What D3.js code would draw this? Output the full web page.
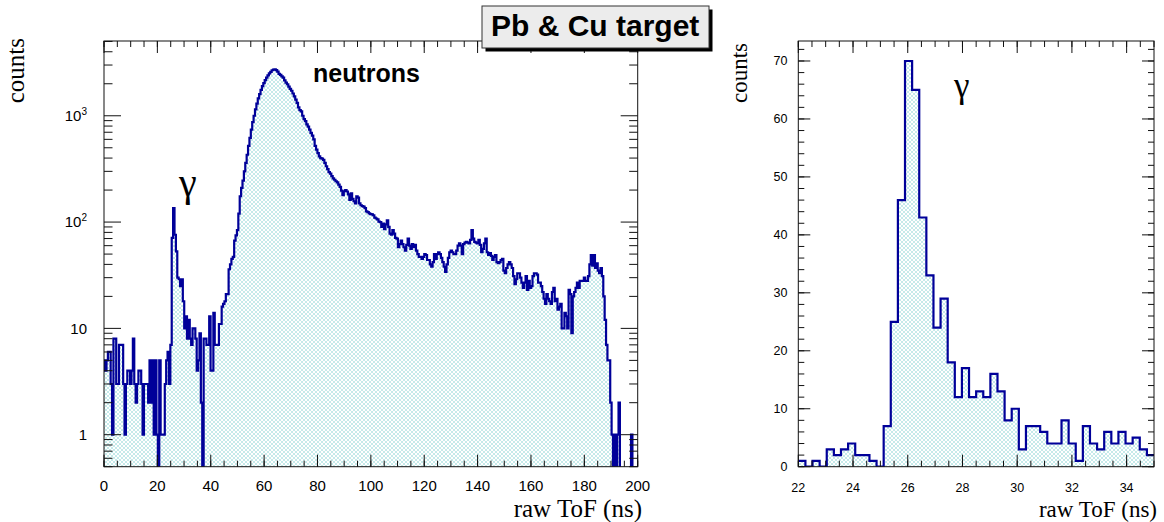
<!DOCTYPE html>
<html><head><meta charset="utf-8">
<script src="https://cdn.jsdelivr.net/npm/d3@7"></script>
<style>body{margin:0;background:#fff}</style></head>
<body>
<svg id="c" width="1164" height="522"></svg>
<script>
// ---------- DATA ----------
// left panel: raw ToF histogram (log y), bins of 0.52 ns starting at -0.1 ns
const leftBinStart = -0.1;
const leftBinWidth = 0.52;
const leftCounts = [
  5,4,5,6,6,3,1,8,8,3, 3,7,7,7,3,1,3,4,4,3, 4,8,3,2,3,4,4,3,1,3, 3,3,2,5,2,5,1,5,1,0, 5,1,
  1,1,3,5,6,3,7,
  71,135,76,53,30,29,25,29,18,10,13,8,12,8,7,10,10,8,
  4,5,9,2,0,
  8,8,7,7,13,4,4,14,7,7, 7,11,11,16,17,18,21,21,36,40, 45,47,67,75,84,
  120,175,210,245,300,360,430,520,620,740, 870,1000,1150,1300,1460,1600,1750,1900,2030,2160,
  2280,2400,2500,2590,2680,2720,2730,2690,2600,2480, 2420,2350,2280,2150,2050,1980,1880,1790,1720,1620,
  1520,1420,1320,1200,1130,1100,1000,930,890,830, 790,740,690,650,600,
  520,480,445,415,400,395,385,360,335,315, 295,285,270,258,250,242,236,225,214,198,
  179,195,200,194,182,162,186,165,157,150, 175,170,150,144,141,140,135,126,124,121,
  119,118,116,110,108,106,101,100,90,97, 86,95,104,90,78,76,84,78,71,70,
  58,62,67,62,58,54,61,70,60,56, 62,58,61,54,50,47,
  47,45,47,50,49,44,44,40,38,42, 50,45,50,52,50,46,42,38,34,40,
  46,52,54,52,50,50,54,60,63,60, 50,62,64,65,64,63,68,84,70,65,
  64,63,68,61,52,56,63,70,52,49, 51,48,44,47,49,42,41,42,44,45,
  35,33,37,40,42,40,37,31,26,29, 33,33,30,27,24,
  27,31,23,28,24,25,31,33,33,32, 27,27,25,22,19,17,21,19,18,17,
  22,24,18,19,15,16,17,10,10,14, 13,10,23,21,9,20,22,24,27,24,
  28,28,28,30,28,28,31,40,49,39, 49,37,41,35,33,37,31,20,12,7,
  5,5,2,1,0,1,0,1,2, 0,0,0,0,0,0,0,0, 1, 0,0,0,0
];
// right panel: zoom on the gamma peak (linear y), bins of 0.26 ns from 22 ns
const rightBinStart = 22;
const rightBinWidth = 0.26;
const rightCounts = [
  1,0,1,0,3,2,3,4,2,2, 1,0,7,25,46,70,65,43,33,24,
  29,18,12,17,12,13,12,16,13,8, 10,3,7,7,6,4,4,8,4,1,
  7,4,3,6,4,6,4,5,3,2
];
const leftXTicks = [0,20,40,60,80,100,120,140,160,180,200];
const leftYTicks = [1,10,100,1000];
const leftYTickLabels = [["1",""],["10",""],["10","2"],["10","3"]];
const rightXTicks = [22,24,26,28,30,32,34];
const rightYTicks = [0,10,20,30,40,50,60,70];
const titleText = "Pb & Cu target";
const xTitle = "raw ToF (ns)";
const yTitle = "counts";
const gammaText = "γ";
const neutronText = "neutrons";

// ---------- LAYOUT ----------
const L = {x0:104, x1:637.7, y0:41, y1:466.7};
const R = {x0:798.3, x1:1154, y0:41, y1:466.7};
const lineColor = "#000099";
const sans = "'Liberation Sans', Arial, sans-serif";
const serif = "'Liberation Serif', 'Times New Roman', serif";

const svg = d3.select("#c");
svg.append("rect").attr("width",1164).attr("height",522).attr("fill","#fff");
const defs = svg.append("defs");
const pat = defs.append("pattern").attr("id","hatch").attr("patternUnits","userSpaceOnUse")
  .attr("width",4).attr("height",4);
pat.append("rect").attr("width",4).attr("height",4).attr("fill","#ffffff");
pat.append("path").attr("d","M0,0L4,4M4,0L0,4M-1,3L1,5M3,-1L5,1M3,5L5,3M-1,1L1,-1")
  .attr("stroke","#9edcdc").attr("stroke-width",0.6).attr("fill","none");
[["clipL",L],["clipR",R]].forEach(([id,F])=>{
  defs.append("clipPath").attr("id",id).append("rect")
    .attr("x",F.x0).attr("y",F.y0).attr("width",F.x1-F.x0).attr("height",F.y1-F.y0);
});

// scales
const xL = d3.scaleLinear().domain([0,200]).range([L.x0,L.x1]);
const yL = d3.scaleLog().domain([0.5,5050]).range([L.y1,L.y0]);
const xR = d3.scaleLinear().domain([22,35]).range([R.x0,R.x1]);
const yR = d3.scaleLinear().domain([0,73.45]).range([R.y1,R.y0]);

function drawHist(counts, start, w, x, y, F, clip, isLog){
  const pts = counts.map((c,i)=>({e:start+i*w, c}));
  pts.push({e:start+counts.length*w, c:counts[counts.length-1]});
  const yy = d => (isLog ? (d.c>0 ? y(d.c) : F.y1+3) : y(d.c));
  const g = svg.append("g").attr("clip-path",`url(#${clip})`);
  const area = d3.area().curve(d3.curveStepAfter).x(d=>x(d.e)).y0(F.y1).y1(yy);
  g.append("path").attr("d",area(pts)).attr("fill","url(#hatch)");
  const line = d3.line().curve(d3.curveStepAfter).x(d=>x(d.e)).y(yy);
  g.append("path").attr("d",line(pts)).attr("fill","none")
    .attr("stroke",lineColor).attr("stroke-width",2.2).attr("stroke-linejoin","miter");
}
drawHist(leftCounts, leftBinStart, leftBinWidth, xL, yL, L, "clipL", true);
drawHist(rightCounts, rightBinStart, rightBinWidth, xR, yR, R, "clipR", false);

function frame(F){
  svg.append("rect").attr("x",F.x0).attr("y",F.y0).attr("width",F.x1-F.x0).attr("height",F.y1-F.y0)
    .attr("fill","none").attr("stroke","#111").attr("stroke-width",1);
}
function xTicks(F, x, vals, len){
  const g = svg.append("g").attr("stroke","#111").attr("stroke-width",1);
  vals.forEach(v=>{
    const px = x(v);
    g.append("line").attr("x1",px).attr("x2",px).attr("y1",F.y1).attr("y2",F.y1-len);
    g.append("line").attr("x1",px).attr("x2",px).attr("y1",F.y0).attr("y2",F.y0+len);
  });
}
function yTicks(F, y, vals, len){
  const g = svg.append("g").attr("stroke","#111").attr("stroke-width",1);
  vals.forEach(v=>{
    const py = y(v);
    g.append("line").attr("x1",F.x0).attr("x2",F.x0+len).attr("y1",py).attr("y2",py);
    g.append("line").attr("x1",F.x1).attr("x2",F.x1-len).attr("y1",py).attr("y2",py);
  });
}
// left panel axes
frame(L);
xTicks(L, xL, xL.ticks(40), 6);
xTicks(L, xL, leftXTicks, 12);
yTicks(L, yL, yL.ticks().filter(v=>leftYTicks.indexOf(v)<0), 8.5);
yTicks(L, yL, leftYTicks, 17);
// right panel axes
frame(R);
xTicks(R, xR, xR.ticks(26), 6);
xTicks(R, xR, rightXTicks, 12);
yTicks(R, yR, yR.ticks(35), 6);
yTicks(R, yR, rightYTicks, 12);

// tick labels
svg.append("g").selectAll("text").data(leftXTicks).join("text")
  .attr("x",d=>xL(d)).attr("y",490.5).attr("text-anchor","middle")
  .attr("font-family",sans).attr("font-size",15).attr("fill","#000").text(d=>d);
const ylab = svg.append("g").selectAll("text").data(leftYTicks).join("text")
  .attr("x",87).attr("y",d=>yL(d)+5.3).attr("text-anchor","end")
  .attr("font-family",sans).attr("font-size",15).attr("fill","#000");
ylab.append("tspan").text((d,i)=>leftYTickLabels[i][0]);
ylab.append("tspan").attr("font-size",10).attr("dy",-6).text((d,i)=>leftYTickLabels[i][1]);

svg.append("g").selectAll("text").data(rightXTicks).join("text")
  .attr("x",d=>xR(d)).attr("y",491.5).attr("text-anchor","middle")
  .attr("font-family",sans).attr("font-size",12.5).attr("fill","#000").text(d=>d);
svg.append("g").selectAll("text").data(rightYTicks).join("text")
  .attr("x",787.5).attr("y",d=>yR(d)+4.5).attr("text-anchor","end")
  .attr("font-family",sans).attr("font-size",12.5).attr("fill","#000").text(d=>d);

// axis titles
svg.append("text").attr("x",642).attr("y",517).attr("text-anchor","end")
  .attr("font-family",serif).attr("font-size",25).text(xTitle);
svg.append("text").attr("x",1157).attr("y",517).attr("text-anchor","end")
  .attr("font-family",serif).attr("font-size",23).text(xTitle);
svg.append("text").attr("transform","translate(24,38) rotate(-90)").attr("text-anchor","end")
  .attr("font-family",serif).attr("font-size",25).text(yTitle);
svg.append("text").attr("transform","translate(747,43) rotate(-90)").attr("text-anchor","end")
  .attr("font-family",serif).attr("font-size",23).text(yTitle);

// annotations
svg.append("text").attr("x",179).attr("y",196).attr("font-family",serif).attr("font-size",40).text(gammaText);
svg.append("text").attr("x",954).attr("y",97).attr("font-family",serif).attr("font-size",35).text(gammaText);
svg.append("text").attr("x",313).attr("y",82).attr("font-family",sans).attr("font-weight","bold")
  .attr("font-size",25).text(neutronText);

// title box
svg.append("rect").attr("x",485.5).attr("y",9.5).attr("width",227).attr("height",42).attr("fill","#000");
svg.append("rect").attr("x",482).attr("y",6).attr("width",227).attr("height",42)
  .attr("fill","#ececec").attr("stroke","#333").attr("stroke-width",1);
svg.append("text").attr("x",491).attr("y",35.5).attr("font-family",sans).attr("font-weight","bold")
  .attr("font-size",30).text(titleText);
</script>
</body></html>
